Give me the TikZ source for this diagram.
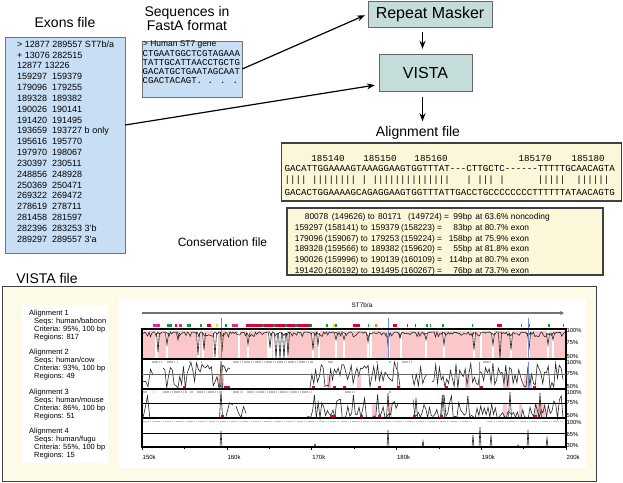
\documentclass[tikz,border=0pt]{standalone}
\usepackage{fontspec}
\setmainfont{Liberation Sans}
\newfontfamily\seqfont{Liberation Mono}
\usetikzlibrary{arrows.meta}

\definecolor{exonblue}{RGB}{200,222,244}
\definecolor{tooltint}{RGB}{196,220,218}
\definecolor{filecream}{RGB}{253,247,218}
\definecolor{panelcream}{RGB}{253,250,232}
\definecolor{peakpink}{RGB}{250,200,200}
\definecolor{hitred}{RGB}{225,0,60}
\definecolor{hitgreen}{RGB}{20,150,60}
\definecolor{hitpink}{RGB}{225,40,160}
\definecolor{hityellow}{RGB}{240,225,0}
\definecolor{hitorange}{RGB}{240,130,0}
\definecolor{cnsgray}{RGB}{190,190,190}
\definecolor{peakblue}{RGB}{110,140,220}

% one row of the conservation file: shift, from, (from), to, (to), length, percent, kind
\newcommand{\consrow}[8]{\hspace*{#1}\makebox[30pt][l]{#2}\makebox[36pt][l]{#3}\makebox[10.3pt][l]{to}%
\makebox[30pt][l]{#4}\makebox[36pt][l]{#5}\makebox[\dimexpr35pt-#1\relax][l]{=}\makebox[0pt][r]{#6}%
\hspace{3.3pt}at #7\% #8}

\begin{document}
\begin{tikzpicture}[x=1pt,y=-1pt,
  filelabel/.style={inner sep=1pt,font=\fontsize{14}{14}\selectfont},
  bluebox/.style={draw=black!55,fill=exonblue},
  toolbox/.style={draw=black!60,fill=tooltint,font=\fontsize{16}{16}\selectfont},
  creambox/.style={draw=black!75,line width=1.2pt,fill=filecream},
  flow/.style={line width=1.2pt,-{Stealth[length=8pt,width=6pt]}},
  mono/.style={inner sep=0pt,font=\seqfont\fontsize{9.17}{9.17}\selectfont},
  alnkey/.style={inner sep=0pt,align=left,anchor=north west,font=\fontsize{7.5}{6.4}\selectfont},
  pctlabel/.style={inner sep=0pt,anchor=west,font=\fontsize{5.8}{5.8}\selectfont},
  axlabel/.style={inner sep=0pt,anchor=west,font=\fontsize{6}{6}\selectfont},
  trace/.style={line width=0.6pt,black!85}]
\pgfmathsetseed{2718}
\useasboundingbox (0,0) rectangle (623,482);

% exons file
\node[filelabel] (exlabel) at (65,22) {Exons file};
\node[bluebox,minimum width=120pt,minimum height=216pt] (exons) at (65,145) {};
\node[inner sep=0pt,anchor=north west,align=left,font=\fontsize{9}{10.83}\selectfont] (exlist) at (17,40.6) {%
> 12877 289557 ST7b/a\\+ 13076 282515\\12877 13226\\
159297\hspace{5pt}159379\\179096\hspace{5pt}179255\\189328\hspace{5pt}189382\\190026\hspace{5pt}190141\\
191420\hspace{5pt}191495\\193659\hspace{5pt}193727 b only\\195616\hspace{5pt}195770\\197970\hspace{5pt}198067\\
230397\hspace{5pt}230511\\248856\hspace{5pt}248928\\250369\hspace{5pt}250471\\269322\hspace{5pt}269472\\
278619\hspace{5pt}278711\\281458\hspace{5pt}281597\\282396\hspace{5pt}283253 3'b\\289297\hspace{5pt}289557 3'a};

% sequences
\node[filelabel,align=center,font=\fontsize{14}{14}\selectfont] (seqlabel) at (187,18) {Sequences in\\FastA format};
\node[bluebox,minimum width=100pt,minimum height=56pt] (seq) at (192,69) {};
\node[inner sep=0pt,anchor=west,font=\fontsize{8.4}{8.4}\selectfont] (seqhead) at (143,44.5) {> Human ST7 gene};
\foreach \s [count=\i] in {CTGAATGGCTCGTAGAAA,TATTGCATTAACCTGCTG,GACATGCTGAATAGCAAT,CGACTACAGT. . . .}
  \node[mono,anchor=west,font=\seqfont\fontsize{9}{9}\selectfont] (seq\i) at (142.5,{44.5+9.1*\i}) {\s};

% tools
\node[toolbox,minimum width=124pt,minimum height=26pt] (rm) at (430,14) {Repeat Masker};
\node[toolbox,minimum width=93pt,minimum height=37pt] (vista) at (425.5,72.5) {VISTA};
\node[filelabel] (alnlabel) at (418,133) {Alignment file};

\draw[flow,shorten >=3pt] (seq.east) -- (rm.west);
\draw[flow,shorten >=4pt] ([yshift=20pt]exons.east) -- ([yshift=-12pt]vista.west);
\draw[flow,shorten <=5pt,shorten >=5pt] ([xshift=-3pt]rm.south -| vista.north) -- ([xshift=-3pt]vista.north);
\draw[flow,shorten <=6pt,shorten >=4pt] ([xshift=-3pt]vista.south) -- ([xshift=-3pt]vista.south |- alnlabel.north);

% alignment file
\node[creambox,minimum width=340pt,minimum height=58pt] (aln) at (451.5,172) {};
\foreach \p/\n [count=\i] in {328/185140,380/185150,431/185160,535/185170,588/185180}
  \node[mono] (ruler\i) at (\p,158) {\n};
\node[mono,anchor=west] (seqa) at (284.5,168) {GACATTGGAAAAGTAAAGGAAGTGGTTTAT-{}-{}-CTTGCTC-{}-{}-{}-{}-{}-TTTTTGCAACAGTA};
\node[mono,anchor=west] (match) at (284.5,180) {||||~||||||||~|~||||||||||||||~~~|~|||~|~~~~~~|||||~~||||||};
\node[mono,anchor=west] (seqb) at (284.5,192) {GACACTGGAAAAGCAGAGGAAGTGGTTTATTGACCTGCCCCCCCCTTTTTTATAACAGTG};

% conservation file
\node[filelabel,font=\fontsize{12}{12}\selectfont] (conslabel) at (222.5,242) {Conservation file};
\node[creambox,minimum width=316pt,minimum height=67pt] (cons) at (445,241.5) {};
\node[inner sep=0pt,anchor=north west,align=left,font=\fontsize{8.4}{10.9}\selectfont] (constext) at (294.7,213) {%
\consrow{7pt}{\hspace{3pt}80078}{(149626)}{80171}{(149724)}{99bp}{63.6}{noncoding}\\
\consrow{0pt}{159297}{(158141)}{159379}{(158223)}{83bp}{80.7}{exon}\\
\consrow{0pt}{179096}{(159067)}{179253}{(159224)}{158bp}{75.9}{exon}\\
\consrow{0pt}{189328}{(159566)}{189382}{(159620)}{55bp}{81.8}{exon}\\
\consrow{0pt}{190026}{(159996)}{190139}{(160109)}{114bp}{80.7}{exon}\\
\consrow{0pt}{191420}{(160192)}{191495}{(160267)}{76bp}{73.7}{exon}};

% vista file
\node[filelabel] (vistalabel) at (47,278) {VISTA file};
\node[draw=black!75,line width=1.2pt,fill=panelcream,minimum width=594pt,minimum height=195pt,anchor=north west] (vistafile) at (2,286) {};
\fill[white] (21,305) rectangle (108,463);
\fill[white] (119,299) rectangle (586,468);
\foreach \s/\c/\r [count=\i] in {baboon/95/817,cow/93/49,mouse/86/51,fugu/55/15}
  \node[alnkey] (key\i) at (29,{310+39.3*(\i-1)}) {Alignment \i\\\hspace{5pt}Seqs: human/\s\\\hspace{5pt}Criteria: \c\%, 100 bp\\\hspace{5pt}Regions: \r};

% gene and hits
\draw[black!55,line width=1.6pt,-{Stealth[length=4pt,width=4pt]}] (142,313) -- (564,313);
\node[inner sep=0pt,font=\fontsize{6.4}{6.4}\selectfont] (gene) at (362,305) {ST7b/a};
\foreach \a/\b/\c in {153/160/hitpink,167/172/hitgreen,175/177/hitred,179/182/hitpink,187/191/hitgreen,
  200/202/hitgreen,207/211/hitred,216/218/hityellow,225/227/hitgreen,232/238/hitpink,246/310/hitred,
  310/312/hitgreen,326/328/hitgreen,333/335/hityellow,335/337/hitgreen,353/360/hitred,368/369/hitgreen,
  375/377/hitorange,393/397/hitred,407/408/hitred,415/416/hitred,426/428/hitgreen,430/431/hitgreen,
  442/444/hitgreen,472/473/hitgreen,497/502/hitred,521/522/hitgreen,528/530/hitgreen,548/550/hitgreen,563/564/hitgreen}
  \fill[\c] (\a,323.5) rectangle (\b,326.5);
\foreach \a in {262,273,285,295}
  \fill[hitgreen] (\a,323.5) rectangle ++(2,3);

% baboon
\fill[peakpink] (142,331) rectangle (566,359);
\foreach \g/\w in {155/3,166/2,197/3,202/2,213/5,238/2,247/2,267/5,273/14,312/2,318/2,335/2,343/2,367/2,370/2,
  388/2,400/2,425/2,443/2,473/2,480/2,492/2,510/2,527/3,547/2,552/2}
  \fill[white] (\g,331) rectangle ++(\w,28);
\draw[trace] plot[domain=142:566,samples=300] (\x,{332+5*rnd^2});
\foreach \d/\y in {158/352,167/345,178/340,198/355,204/350,215/357,222/352,248/345,270/348,276/359,280/359,
  284/359,288/355,313/350,318/345,336/340,344/340,368/342,388/345,400/338,426/340,444/345,474/350,493/345,
  500/359,511/350,529/350,548/345,553/340}
  \draw[trace] (\d-1.5,333) -- (\d,\y) -- (\d+1.5,333);
\foreach \a in {221,388,528}
  \draw[peakblue,line width=0.5pt] (\a,318) -- (\a,359);

% cow
\foreach \a/\b in {218/224,327/331,357/361,465/470,503/510,524/532}
  \fill[peakpink] (\a,374) rectangle (\b,389);
\foreach \a/\b in {143/153,163/230,310/400,412/427,432/563}{
  \pgfmathtruncatemacro\ns{(\b-\a)/1.8}
  \draw[trace] plot[domain=\a:\b,samples=\ns] (\x,{389-27*rnd});
}
\draw[trace] (219.5,389) -- (221,361) -- (222.5,389);
\foreach \a in {221,397,479,528}
  \draw[peakblue,line width=0.5pt] (\a,362) -- (\a,389);
\foreach \a in {183,224,227,312,333,343,378,397,445,480,533}
  \fill[hitred] (\a,385.5) rectangle ++(3,3.5);

% mouse
\foreach \a/\b in {372/376,388/392,503/507,519/522,535/545}
  \fill[peakpink] (\a,403) rectangle (\b,418);
\foreach \a/\b in {143/152,226/233,236/246,307/398,413/563}{
  \pgfmathtruncatemacro\ns{(\b-\a)/1.8}
  \draw[trace] plot[domain=\a:\b,samples=\ns] (\x,{418-24*rnd^2});
}
\foreach \d/\y in {221/391,388/393,416/398,443/395,510/392,540/393}
  \draw[trace] (\d-1.5,418) -- (\d,\y) -- (\d+1.5,418);
\foreach \a in {221,330,333,360,378,413,440,534}
  \fill[hitred] (\a,414.5) rectangle ++(3,3.5);

% fugu
\foreach \d/\y in {221/431,315/444,388/430,423/441,473/435,480/427,491/435,518/445,528/430,547/438}
  \draw[trace] (\d-1,447) -- (\d,\y) -- (\d+1,447);

% conserved regions
\foreach \a/\b in {152/163,167/174,177/178,189/190,201/202,233/313,328/333,376/378,389/391,402/413,483/490}
  \draw[cnsgray,line width=2pt,dash pattern=on 1.5pt off 0.7pt] (\a,361.5) -- (\b,361.5);
\foreach \a/\b in {143/147,153/154,163/187,190/193,197/220,233/243,247/313,345/355,389/391}
  \draw[cnsgray,line width=2pt,dash pattern=on 1.5pt off 0.7pt] (\a,391.5) -- (\b,391.5);
\foreach \a/\b in {143/473,487/563}
  \draw[cnsgray,line width=1.6pt,dash pattern=on 1.5pt off 0.7pt] (\a,421.5) -- (\b,421.5);

% frames
\draw[line width=1.2pt] (142,329) rectangle (566,447);
\foreach \y in {359,389,418}
  \draw[line width=1.2pt] (142,\y) -- (566,\y);
\draw[black!60,line width=0.9pt] (142,374) -- (566,374);
\draw[line width=0.6pt] (142,403) -- (566,403);
\draw[line width=0.6pt] (142,433) -- (566,433);
\foreach \y/\t [count=\i] in {330/100\%,343/75\%,356/50\%,362/100\%,374/75\%,386/50\%,
  392/100\%,403/75\%,415/50\%,422/100\%,434/65\%,445/30\%}
  \node[pctlabel] (pct\i) at (566.5,\y) {\t};

% axis
\foreach \k/\t in {0/150k,1/160k,2/170k,3/180k,4/190k,5/200k}{
  \draw[line width=0.6pt] (142+84.8*\k,447) -- ++(0,3);
  \node[axlabel] (ax\k) at (142.5+84.8*\k,457) {\t};
}
\foreach \k in {0,...,4}
  \draw[line width=0.5pt] (184.4+84.8*\k,447) -- ++(0,2);

\end{tikzpicture}
\end{document}
